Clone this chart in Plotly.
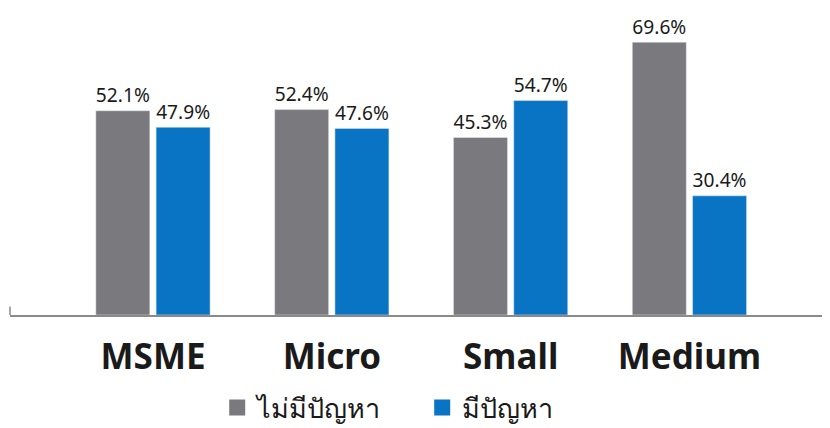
import plotly.graph_objects as go

categories = ["MSME", "Micro", "Small", "Medium"]
no_problem = [52.1, 52.4, 45.3, 69.6]
has_problem = [47.9, 47.6, 54.7, 30.4]
series_names = ["ไม่มีปัญหา", "มีปัญหา"]
colors = ["#7a7a7e", "#0a74c4"]

x = list(range(len(categories)))
font_fam = "Noto Sans, Lato, DejaVu Sans, sans-serif"

fig = go.Figure()
for vals, name, col, off in [(no_problem, series_names[0], colors[0], -0.32),
                             (has_problem, series_names[1], colors[1], 0.017)]:
    fig.add_trace(go.Bar(
        x=x, y=vals, name=name, marker_color=col, width=0.302, offset=off,
        text=[f"{v:.1f}%" for v in vals], textposition="outside",
        textfont=dict(size=21, color="#1a1a1a", family=font_fam),
        cliponaxis=False, showlegend=False,
    ))
    fig.add_trace(go.Scatter(
        x=[None], y=[None], mode="markers", name=name,
        marker=dict(symbol="square", size=20, color=col),
    ))

fig.update_layout(
    width=822, height=420,
    margin=dict(l=2, r=1, t=22, b=113, autoexpand=False),
    plot_bgcolor="white", paper_bgcolor="white",
    barmode="overlay",
    showlegend=True,
    legend=dict(orientation="h", x=0.253, xanchor="left", y=-0.24, yanchor="top",
                font=dict(size=27, color="#1a1a1a", family=font_fam),
                itemwidth=30, entrywidth=160, entrywidthmode="pixels"),
    xaxis=dict(range=[-0.80, 3.78], tickvals=x, ticktext=categories,
               automargin=False,
               showline=True, linecolor="#8a8a8a", linewidth=1.5,
               showgrid=False, zeroline=False, ticks="",
               ticklabelstandoff=10,
               tickfont=dict(size=35, color="#1a1a1a", family=font_fam, weight="bold")),
    yaxis=dict(range=[0, 72.7], visible=False, automargin=False),
    shapes=[dict(type="line", xref="paper", yref="paper", x0=0, x1=0, y0=0, y1=0.03,
                 line=dict(color="#8a8a8a", width=1.5))],
)

fig.write_html("out.html")
